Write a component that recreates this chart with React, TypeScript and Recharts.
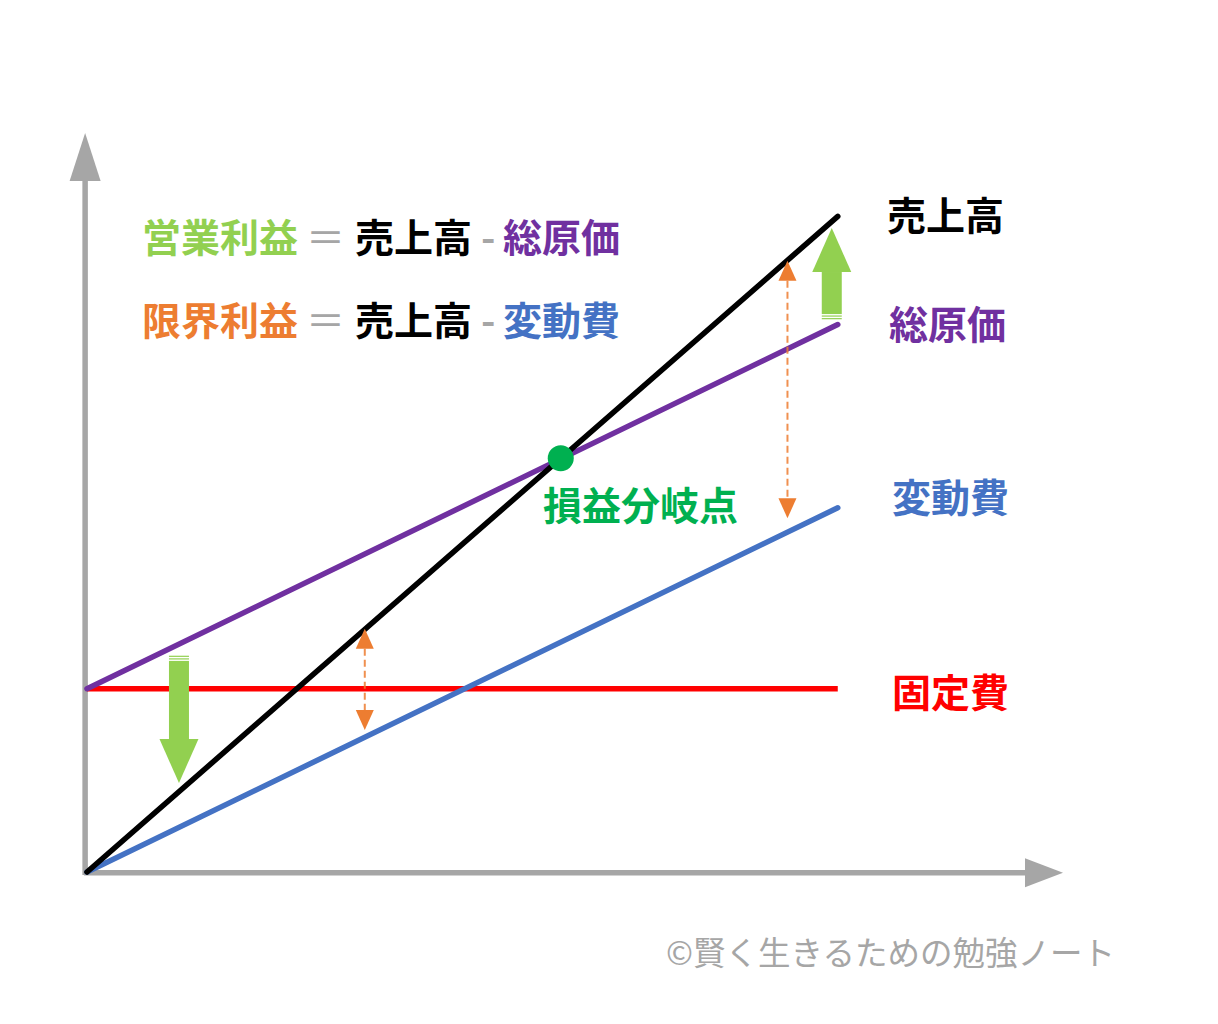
import { LineChart, Line, XAxis, YAxis, ReferenceLine, ReferenceDot, Customized } from 'recharts';

// x: sales volume (0..100), y: amount (same scale)
const X_POINTS = [0, 100];
const SALES = [0, 87.3];
const VARIABLE_COST = [0, 48.5];
const FIXED_COST = [24.4, 24.4];
const TOTAL_COST = [24.4, 72.9];
const BREAK_EVEN = { x: 63.1, y: 55.1 };

const X_MAX = 130;
const Y_MAX = 100;
const AXIS_Y_TOP = 98.4;

// green block arrows (profit shrink / grow) and orange dashed arrows (marginal profit)
const PROFIT_ARROWS = [
  { x: 12.25, from: 28.8, to: 11.85 },
  { x: 99.2, from: 73.6, to: 85.75 },
];
const MARGIN_ARROWS = [
  { x: 37.0, from: 18.9, to: 32.4 },
  { x: 93.3, from: 47.1, to: 81.4 },
];

const FONT = '"Noto Sans CJK JP", "Noto Sans", sans-serif';
const AXIS = '#a6a6a6';
const BLACK = '#000000';
const PURPLE = '#7030a0';
const BLUE = '#4472c4';
const RED = '#ff0000';
const GREEN = '#00b050';
const LIGHT_GREEN = '#92d050';
const ORANGE = '#ed7d31';

const data = X_POINTS.map((x, i) => ({
  x,
  sales: SALES[i],
  variable: VARIABLE_COST[i],
  fixed: FIXED_COST[i],
  total: TOTAL_COST[i],
}));

function axisArrow(headLen: number, headHalf: number) {
  return (p: any) => {
    const { x1, y1, x2, y2 } = p;
    const dx = x2 - x1;
    const dy = y2 - y1;
    const len = Math.hypot(dx, dy) || 1;
    const ux = dx / len;
    const uy = dy / len;
    const nx = -uy;
    const ny = ux;
    const bx = x2 - ux * headLen;
    const by = y2 - uy * headLen;
    return (
      <g>
        <line x1={x1 - ux * 3} y1={y1 - uy * 3} x2={bx} y2={by} stroke={AXIS} strokeWidth={5.5} />
        <polygon
          points={`${x2},${y2} ${bx + nx * headHalf},${by + ny * headHalf} ${bx - nx * headHalf},${by - ny * headHalf}`}
          fill={AXIS}
        />
      </g>
    );
  };
}

const blockArrow = (p: any) => {
  const { x1, y1, y2 } = p;
  const dir = Math.sign(y2 - y1);
  const shaftHalf = 10;
  const headHalf = 19.5;
  const headLen = 44;
  const headBase = y2 - dir * headLen;
  const at = (o: number) => y1 + dir * o;
  const band = (a: number, b: number) => {
    const ya = at(a);
    const yb = b === -1 ? headBase : at(b);
    return <rect x={x1 - shaftHalf} y={Math.min(ya, yb)} width={shaftHalf * 2} height={Math.abs(yb - ya)} />;
  };
  return (
    <g fill={LIGHT_GREEN}>
      {band(0, 1.2)}
      {band(2.6, 3.8)}
      {band(5.2, -1)}
      <polygon points={`${x1},${y2} ${x1 - headHalf},${headBase} ${x1 + headHalf},${headBase}`} />
    </g>
  );
};

const dashedArrow = (p: any) => {
  const { x1, y1, y2 } = p;
  const top = Math.min(y1, y2);
  const bot = Math.max(y1, y2);
  const hl = 20;
  const hh = 9;
  return (
    <g>
      <line x1={x1} y1={top + hl} x2={x1} y2={bot - hl} stroke={ORANGE} strokeOpacity={0.85} strokeWidth={2} strokeDasharray="7 4" />
      <polygon points={`${x1},${top} ${x1 - hh},${top + hl} ${x1 + hh},${top + hl}`} fill={ORANGE} />
      <polygon points={`${x1},${bot} ${x1 - hh},${bot - hl} ${x1 + hh},${bot - hl}`} fill={ORANGE} />
    </g>
  );
};

const Annotations = () => (
  <g fontFamily={FONT} fontWeight={700} fontSize={39}>
    <text x={142} y={252} fill={LIGHT_GREEN}>営業利益</text>
    <text x={306} y={252} fill={AXIS} fontWeight={400}>＝</text>
    <text x={355} y={252} fill={BLACK}>売上高</text>
    <text x={481} y={252} fill={AXIS}>-</text>
    <text x={503} y={252} fill={PURPLE}>総原価</text>

    <text x={142} y={335} fill={ORANGE}>限界利益</text>
    <text x={306} y={335} fill={AXIS} fontWeight={400}>＝</text>
    <text x={355} y={335} fill={BLACK}>売上高</text>
    <text x={481} y={335} fill={AXIS}>-</text>
    <text x={503} y={335} fill={BLUE}>変動費</text>

    <text x={887} y={230} fill={BLACK}>売上高</text>
    <text x={889} y={339} fill={PURPLE}>総原価</text>
    <text x={892} y={512} fill={BLUE}>変動費</text>
    <text x={892} y={707} fill={RED}>固定費</text>

    <text x={543} y={520} fill={GREEN}>損益分岐点</text>

    <text x={666} y={965} fill={AXIS} fontWeight={400} fontSize={32.5}>©賢く生きるための勉強ノート</text>
  </g>
);

export default function App() {
  return (
    <div style={{ position: 'absolute', left: 0, top: 0, background: '#fff' }}>
      <LineChart width={1218} height={1024} data={data} margin={{ top: 121, right: 155, bottom: 152, left: 87 }}>
        <XAxis type="number" dataKey="x" domain={[0, X_MAX]} hide />
        <YAxis type="number" domain={[0, Y_MAX]} hide />
        <ReferenceLine
          segment={[{ x: -0.25, y: 0 }, { x: -0.25, y: AXIS_Y_TOP }]}
          ifOverflow="visible"
          shape={axisArrow(48, 15.5)}
        />
        <ReferenceLine
          segment={[{ x: 0, y: -0.1 }, { x: X_MAX, y: -0.1 }]}
          ifOverflow="visible"
          shape={axisArrow(38, 14.5)}
        />
        <Line dataKey="fixed" stroke={RED} strokeWidth={5.5} dot={false} isAnimationActive={false} />
        <Line dataKey="variable" stroke={BLUE} strokeWidth={5.5} strokeLinecap="round" dot={false} isAnimationActive={false} />
        <Line dataKey="total" stroke={PURPLE} strokeWidth={5.5} strokeLinecap="round" dot={false} isAnimationActive={false} />
        <Line dataKey="sales" stroke={BLACK} strokeWidth={5.5} strokeLinecap="round" dot={false} isAnimationActive={false} />
        {PROFIT_ARROWS.map((a, i) => (
          <ReferenceLine key={`p${i}`} segment={[{ x: a.x, y: a.from }, { x: a.x, y: a.to }]} shape={blockArrow} />
        ))}
        {MARGIN_ARROWS.map((a, i) => (
          <ReferenceLine key={`m${i}`} segment={[{ x: a.x, y: a.from }, { x: a.x, y: a.to }]} shape={dashedArrow} />
        ))}
        <ReferenceDot x={BREAK_EVEN.x} y={BREAK_EVEN.y} r={13} fill={GREEN} stroke="none" />
        <Customized component={Annotations} />
      </LineChart>
    </div>
  );
}
